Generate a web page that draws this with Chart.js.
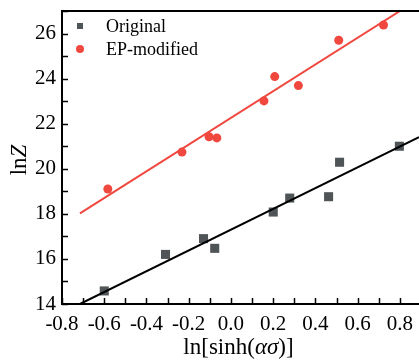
<!DOCTYPE html>
<html>
<head>
<meta charset="utf-8">
<script src="https://cdn.jsdelivr.net/npm/chart.js@4"></script>
<style>
  body { margin: 0; background: #fff; }
  canvas { display: block; }
</style>
</head>
<body>
<canvas id="lnzChart" width="419" height="363"></canvas>
<script>
// measured points
const origX = [-0.6, -0.31, -0.13, -0.077, 0.2, 0.278, 0.462, 0.514, 0.797];
const origY = [14.58, 16.2, 16.9, 16.47, 18.08, 18.7, 18.76, 20.29, 21.0];
const modX = [-0.583, -0.232, -0.104, -0.067, 0.156, 0.207, 0.319, 0.51, 0.722];
const modY = [19.1, 20.74, 21.42, 21.37, 23.01, 24.09, 23.69, 25.7, 26.38];

// linear fits (end points)
const origFitX = [-0.715, 0.89];
const origFitY = [14.0, 21.4];
const modFitX = [-0.715, 0.8];
const modFitY = [18.02, 27.0];

const seriesNames = ['Original', 'EP-modified'];

const grayCol = '#4f5457';
const redCol = '#f0473e';
const serif = "'Liberation Serif', 'Times New Roman', serif";

const toPts = (xs, ys) => xs.map((x, i) => ({ x: x, y: ys[i] }));

const decor = {
  id: 'decor',
  afterDraw(chart) {
    const ctx = chart.ctx;
    const area = chart.chartArea;
    const xs = chart.scales.x;
    const ys = chart.scales.y;
    ctx.save();
    ctx.strokeStyle = '#000';
    ctx.lineWidth = 2;
    // top frame
    ctx.beginPath();
    ctx.moveTo(area.left - 1, area.top);
    ctx.lineTo(area.right, area.top);
    ctx.stroke();
    // inward ticks
    ctx.lineWidth = 1.5;
    for (let v = -8; v <= 8; v++) {
      const px = Math.round(xs.getPixelForValue(v / 10)) + 0.5;
      ctx.beginPath();
      ctx.moveTo(px, area.bottom);
      ctx.lineTo(px, area.bottom - 6);
      ctx.stroke();
    }
    for (let v = 14; v <= 27; v++) {
      const py = Math.round(ys.getPixelForValue(v)) + 0.5;
      ctx.beginPath();
      ctx.moveTo(area.left, py);
      ctx.lineTo(area.left + 6, py);
      ctx.stroke();
    }
    // legend
    ctx.fillStyle = grayCol;
    ctx.fillRect(77, 23, 6, 6);
    ctx.fillStyle = redCol;
    ctx.beginPath();
    ctx.arc(80, 49, 4, 0, Math.PI * 2);
    ctx.fill();
    ctx.fillStyle = '#000';
    ctx.font = '18px ' + serif;
    ctx.textBaseline = 'middle';
    ctx.textAlign = 'left';
    ctx.fillText(seriesNames[0], 106, 27);
    ctx.fillText(seriesNames[1], 106, 50);

    // x title: ln[sinh(ασ)]
    const parts = [['ln[sinh(', ''], ['ασ', 'italic '], [')]', '']];
    let total = 0;
    parts.forEach(p => { ctx.font = p[1] + '23px ' + serif; total += ctx.measureText(p[0]).width; });
    let cx = (area.left + area.right) / 2 - total / 2 - 2;
    ctx.textBaseline = 'alphabetic';
    parts.forEach(p => {
      ctx.font = p[1] + '23px ' + serif;
      ctx.fillText(p[0], cx, 354);
      cx += ctx.measureText(p[0]).width;
    });

    // y title: lnZ
    ctx.translate(26, 160);
    ctx.rotate(-Math.PI / 2);
    const yParts = [['ln', ''], ['Z', 'italic ']];
    total = 0;
    yParts.forEach(p => { ctx.font = p[1] + '23px ' + serif; total += ctx.measureText(p[0]).width; });
    cx = -total / 2;
    yParts.forEach(p => {
      ctx.font = p[1] + '23px ' + serif;
      ctx.fillText(p[0], cx, 0);
      cx += ctx.measureText(p[0]).width;
    });
    ctx.restore();
  }
};

new Chart(document.getElementById('lnzChart'), {
  type: 'scatter',
  data: {
    datasets: [{
      label: seriesNames[0] + ' fit',
      type: 'line',
      data: toPts(origFitX, origFitY),
      borderColor: '#000',
      borderWidth: 2,
      pointRadius: 0,
      fill: false,
      order: 0
    }, {
      label: seriesNames[1] + ' fit',
      type: 'line',
      data: toPts(modFitX, modFitY),
      borderColor: redCol,
      borderWidth: 2,
      pointRadius: 0,
      fill: false,
      order: 0
    }, {
      label: seriesNames[0],
      data: toPts(origX, origY),
      pointStyle: 'rect',
      pointRadius: 6.4,
      backgroundColor: grayCol,
      borderWidth: 0,
      order: 1
    }, {
      label: seriesNames[1],
      data: toPts(modX, modY),
      pointStyle: 'circle',
      pointRadius: 4.5,
      backgroundColor: redCol,
      borderWidth: 0,
      order: 1
    }]
  },
  options: {
    responsive: false,
    animation: false,
    layout: { autoPadding: false, padding: { top: 11, right: 0, left: 0, bottom: 0 } },
    plugins: {
      legend: { display: false },
      tooltip: { enabled: false }
    },
    scales: {
      x: {
        type: 'linear',
        min: -0.8,
        max: 0.89,
        afterFit: s => { s.height = 59; s.paddingLeft = 0; s.paddingRight = 0; },
        border: { display: true, color: '#000', width: 2 },
        grid: { drawOnChartArea: false, drawTicks: false },
        ticks: {
          stepSize: 0.2,
          includeBounds: false,
          padding: 8,
          color: '#000',
          font: { family: serif, size: 21 },
          callback: v => v.toFixed(1)
        }
      },
      y: {
        min: 14,
        max: 27,
        afterFit: s => { s.width = 62; s.paddingTop = 0; s.paddingBottom = 0; },
        border: { display: true, color: '#000', width: 2 },
        grid: { drawOnChartArea: false, drawTicks: false },
        ticks: {
          stepSize: 2,
          includeBounds: false,
          padding: 6,
          color: '#000',
          font: { family: serif, size: 21 }
        }
      }
    }
  },
  plugins: [decor]
});
</script>
</body>
</html>
